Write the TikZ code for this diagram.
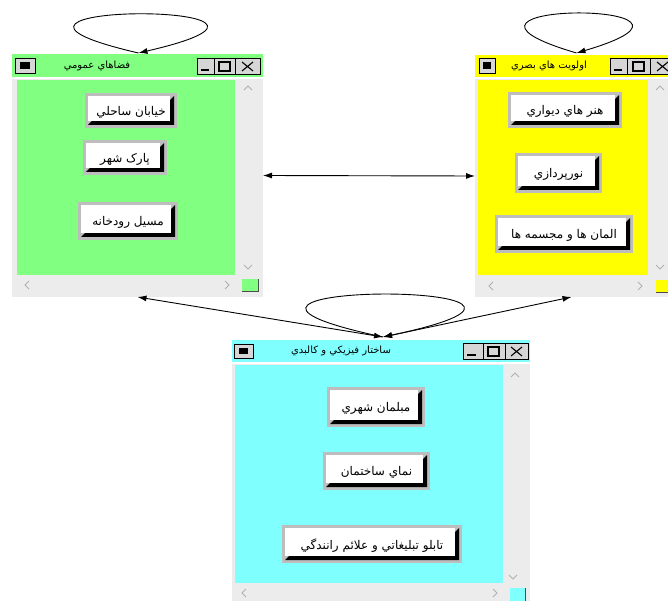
\documentclass[tikz,border=0pt]{standalone}
\usepackage{fontspec}
\usetikzlibrary{arrows.meta,calc}
\TeXXeTstate=1
\newfontfamily\arfont[Script=Arabic]{DejaVu Sans}
\newcommand\artxt[1]{{\arfont\beginR #1\endR}}
\definecolor{wgreen}{HTML}{80FF80}
\definecolor{wyellow}{HTML}{FFFF00}
\definecolor{wcyan}{HTML}{80FFFF}
\definecolor{scrollgray}{HTML}{ECECEC}
\definecolor{btngray}{HTML}{BDBDBD}
\definecolor{tbgray}{HTML}{D6D6D6}
\definecolor{chevgray}{HTML}{B0B0B0}
\tikzset{
  win/.style={draw=none, fill=scrollgray, inner sep=0pt, outer sep=0pt},
  btn/.style={inner sep=0pt, outer sep=0pt, font=\fontsize{12}{13}\selectfont,
    text depth=0pt,
    path picture={
      \fill[btngray] let \p1=(path picture bounding box.north west),
                \p2=(path picture bounding box.south east) in
        (\x1,\y1) rectangle (\x2,\y2);
      \fill[black] let \p1=(path picture bounding box.north west),
                \p2=(path picture bounding box.south east) in
        (\x2-3pt,\y1-3pt) -- (\x2-3pt,\y2+3pt) -- (\x1+3pt,\y2+3pt)
          -- (\x1+7pt,\y2+7pt) -- (\x2-7pt,\y2+7pt) -- (\x2-7pt,\y1-7pt) -- cycle;
      \fill[white] let \p1=(path picture bounding box.north west),
                \p2=(path picture bounding box.south east) in
        (\x1+3pt,\y1-3pt) rectangle (\x2-7pt,\y2+7pt);
    }},
  ttl/.style={inner sep=0pt, font=\fontsize{10}{11}\selectfont},
  tb/.style={draw=black, fill=tbgray, line width=0.8pt},
  tbicon/.style={draw=black, line width=1.1pt},
  chev/.style={draw=chevgray, line width=0.9pt},
  sq/.style={draw=black!70, line width=0.8pt},
  arr/.style={draw=black, line width=0.9pt},
  tipb/.style={arr, {Latex[length=9pt,width=6pt]}-{Latex[length=9pt,width=6pt]}},
  tipe/.style={arr, -{Latex[length=9pt,width=6pt]}}
}
\begin{document}
\begin{tikzpicture}[x=1pt,y=-1pt]
\useasboundingbox (0,0) rectangle (668,601);
\fill[white] (0,0) rectangle (668,601);

% ---------------- Window 1 (green) ----------------
\node[win, minimum width=251pt, minimum height=243pt] (w1) at (137.5,175.5) {};
\fill[wgreen] (12,54) rectangle (263,77);
\fill[white] (12,77) rectangle (263,79);
\fill[wgreen] (17,80) rectangle (235,275);
\draw[tb] (15,58) rectangle (35,73);
\fill[black] (20,62) rectangle (30,69);
\draw[tb] (197,58) rectangle (214,74);
\draw[tb] (214,58) rectangle (235,74);
\draw[tb] (235,58) rectangle (260,74);
\draw[tbicon] (201,70) -- (209,70);
\draw[tbicon] (219,62) rectangle (230,71);
\draw[tbicon] (242,62) -- (253,71) (242,71) -- (253,62);
\node[ttl] (t1) at (97,66) {\artxt{فضاهاي عمومي}};
\draw[chev] (244,90) -- (248,86) -- (252,90);
\draw[chev] (244,265) -- (248,269) -- (252,265);
\draw[chev] (29,281) -- (25,285) -- (29,289);
\draw[chev] (225,281) -- (229,285) -- (225,289);
\fill[wgreen] (242,279) rectangle (258,291);
\draw[sq] (258,279) -- (258,291) -- (242,291);
\node[btn, minimum width=92pt, minimum height=35pt] (b11) at (131,110.5) {\artxt{خيابان ساحلي}};
\node[btn, minimum width=84pt, minimum height=35pt] (b12) at (125,157.5) {\artxt{پارک شهر}};
\node[btn, minimum width=100pt, minimum height=38pt] (b13) at (128,221) {\artxt{مسيل رودخانه}};

% ---------------- Window 2 (yellow) ----------------
\node[win, minimum width=193pt, minimum height=242pt] (w2) at (571.5,176) {};
\fill[wyellow] (475,55) rectangle (668,77);
\fill[white] (475,77) rectangle (668,79);
\fill[wyellow] (478,80) rectangle (648,275);
\draw[tb] (479,58) rectangle (495,73);
\fill[black] (483,62) rectangle (491,69);
\draw[tb] (610,58) rectangle (627,74);
\draw[tb] (627,58) rectangle (650,74);
\draw[tb] (650,58) rectangle (675,74);
\draw[tbicon] (614,70) -- (622,70);
\draw[tbicon] (633,62) rectangle (644,71);
\draw[tbicon] (657,62) -- (668,71) (657,71) -- (668,62);
\node[ttl] (t2) at (549,66) {\artxt{اولويت هاي بصري}};
\draw[chev] (656,90) -- (660,86) -- (664,90);
\draw[chev] (656,265) -- (660,269) -- (664,265);
\draw[chev] (493,282) -- (489,286) -- (493,290);
\draw[chev] (638,282) -- (642,286) -- (638,290);
\fill[wyellow] (656,280) rectangle (670,292);
\draw[sq] (656,292) -- (670,292);
\node[btn, minimum width=114pt, minimum height=36pt] (b21) at (565,110) {\artxt{هنر هاي ديواري}};
\node[btn, minimum width=87pt, minimum height=40pt] (b22) at (558.5,173) {\artxt{نورپردازي}};
\node[btn, minimum width=138pt, minimum height=38pt] (b23) at (564,234) {\artxt{المان ها و مجسمه ها}};

% ---------------- Window 3 (cyan) ----------------
\node[win, minimum width=298pt, minimum height=261pt] (w3) at (381,470.5) {};
\fill[wcyan] (232,340) rectangle (530,362);
\fill[white] (232,362) rectangle (530,364);
\fill[wcyan] (235,365) rectangle (503,583);
\draw[tb] (234,344) rectangle (253,358);
\fill[black] (239,348) rectangle (248,354);
\draw[tb] (463,343) rectangle (483,359);
\draw[tb] (483,343) rectangle (505,359);
\draw[tb] (505,343) rectangle (528,359);
\draw[tbicon] (467,355) -- (476,355);
\draw[tbicon] (488,347) rectangle (499,356);
\draw[tbicon] (511,347) -- (522,356) (511,356) -- (522,347);
\node[ttl] (t3) at (341,351) {\artxt{ساختار فيزيکي و کالبدي}};
\draw[chev] (511,377) -- (515,373) -- (519,377);
\draw[chev] (509,575) -- (513,579) -- (517,575);
\draw[chev] (246,589) -- (242,593) -- (246,597);
\draw[chev] (493,589) -- (497,593) -- (493,597);
\fill[wcyan] (510,588) rectangle (525,602);
\draw[sq] (525,588) -- (525,602);
\node[btn, minimum width=98pt, minimum height=40pt] (b31) at (376,407) {\artxt{مبلمان شهري}};
\node[btn, minimum width=107pt, minimum height=38pt] (b32) at (376.5,471) {\artxt{نماي ساختمان}};
\node[btn, minimum width=180pt, minimum height=38pt] (b33) at (372,544) {\artxt{تابلو تبليغاتي و علائم رانندگي}};

% ---------------- Connectors ----------------
\coordinate (c1) at ($(w1.north)+(1,-1)$);
\coordinate (c2) at ($(w2.north)+(5,-2)$);
\coordinate (c3) at ($(w3.north)+(2,-3)$);
\draw[tipe] (c1) .. controls +(-225,-52) and +(225,-52) .. (c1);
\draw[tipe] (c2) .. controls +(-180,-53) and +(180,-53) .. (c2);
\draw[tipe] (c3) .. controls +(-268,-57) and +(268,-57) .. (c3);
\draw[tipb] (w1.east) -- (w2.west);
\draw[tipb] (c3) -- (w1.south);
\draw[tipb] (c3) -- (w2.south);
\end{tikzpicture}
\end{document}
